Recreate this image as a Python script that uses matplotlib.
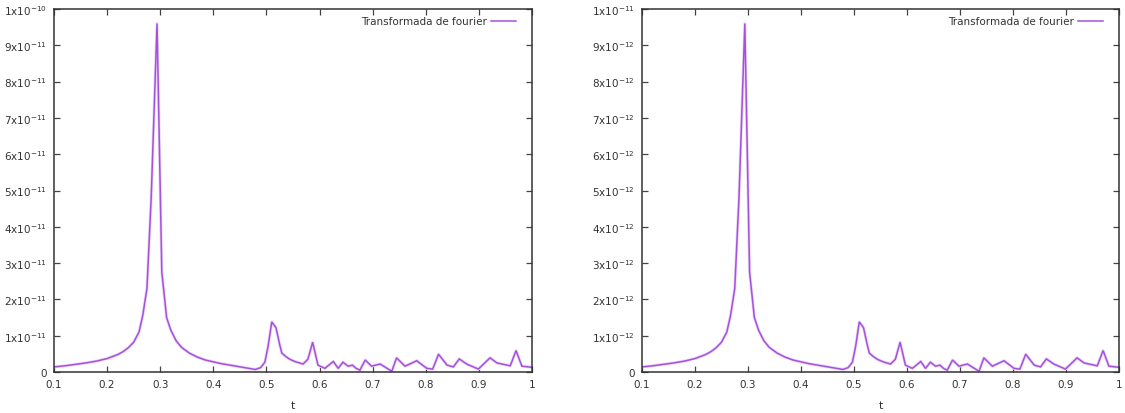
import matplotlib
matplotlib.use("Agg")
import matplotlib.pyplot as plt
from matplotlib.lines import Line2D

# Fourier transform magnitude sampled over t (left panel, units of 1e-11)
t = [0.100, 0.120, 0.140, 0.160, 0.180, 0.200, 0.220, 0.230, 0.240, 0.250,
     0.260, 0.267, 0.275, 0.283, 0.294, 0.303, 0.312, 0.320, 0.330, 0.340,
     0.355, 0.370, 0.385, 0.400, 0.415, 0.431, 0.447, 0.463, 0.479, 0.489,
     0.497, 0.503, 0.510, 0.518, 0.525, 0.529, 0.537, 0.544, 0.555, 0.569,
     0.578, 0.587, 0.597, 0.610, 0.626, 0.635, 0.644, 0.654, 0.662, 0.669,
     0.676, 0.686, 0.698, 0.714, 0.736, 0.745, 0.761, 0.783, 0.802, 0.813,
     0.824, 0.840, 0.852, 0.863, 0.877, 0.899, 0.921, 0.934, 0.959, 0.970,
     0.981, 1.000]
amp = [0.14, 0.17, 0.21, 0.25, 0.30, 0.37, 0.48, 0.56, 0.67, 0.82,
       1.10, 1.55, 2.30, 4.80, 9.60, 2.75, 1.50, 1.15, 0.86, 0.68,
       0.52, 0.41, 0.33, 0.28, 0.23, 0.19, 0.15, 0.11, 0.07, 0.12,
       0.27, 0.70, 1.38, 1.22, 0.75, 0.52, 0.42, 0.35, 0.28, 0.22,
       0.35, 0.82, 0.19, 0.10, 0.29, 0.10, 0.27, 0.16, 0.19, 0.10,
       0.05, 0.33, 0.16, 0.22, 0.02, 0.39, 0.16, 0.31, 0.10, 0.08,
       0.49, 0.19, 0.14, 0.36, 0.22, 0.08, 0.39, 0.25, 0.17, 0.59,
       0.16, 0.13]

# Per-panel scale factors and y tick labels
scales = [1e-11, 1e-12]
x_ticks = [0.1, 0.2, 0.3, 0.4, 0.5, 0.6, 0.7, 0.8, 0.9, 1.0]
x_labels = ["0.1", "0.2", "0.3", "0.4", "0.5", "0.6", "0.7", "0.8", "0.9", "1"]
y_labels = [
    ["0"] + [f"{k}x10$^{{-11}}$" for k in range(1, 10)] + ["1x10$^{-10}$"],
    ["0"] + [f"{k}x10$^{{-12}}$" for k in range(1, 10)] + ["1x10$^{-11}$"],
]
legend_label = "Transformada de fourier"
line_color = "#a452dc"

W, H = 1125, 414
fig = plt.figure(figsize=(W / 100, H / 100), dpi=100)
boxes = [(54, 532), (642, 1119)]
top_px, bot_px = 10, 373

for (x0, x1), s, ylab in zip(boxes, scales, y_labels):
    ax = fig.add_axes([x0 / W, (H - bot_px) / H, (x1 - x0) / W, (bot_px - top_px) / H])
    yvals = [a * s for a in amp]
    # soft halo under the curve, then the curve itself
    ax.plot(t, yvals, color="#ecd6f6", lw=2.2, solid_joinstyle="round")
    ax.plot(t, yvals, color=line_color, lw=1.1, solid_joinstyle="miter")
    ax.set_xlim(0.1, 1.0)
    ax.set_ylim(0, 10 * s)
    ax.set_xticks(x_ticks)
    ax.set_xticklabels(x_labels)
    ax.set_yticks([k * s for k in range(11)])
    ax.set_yticklabels(ylab)
    ax.tick_params(direction="in", length=4, width=0.9, top=True, right=True,
                   labelsize=7.5, labelcolor="#333333", color="#444444", pad=5)
    for sp in ax.spines.values():
        sp.set_linewidth(1.1)
        sp.set_color("#333333")
    ax.set_xlabel("t", fontsize=8, color="#333333", labelpad=8)
    handle = Line2D([], [], color=line_color, lw=1.1)
    width_px = x1 - x0
    leg = ax.legend([handle], [legend_label], loc="upper right", frameon=False,
                    markerfirst=False, fontsize=7.5, handlelength=2.4,
                    borderaxespad=0.2, handletextpad=0.4,
                    bbox_to_anchor=(1 - 10 / width_px, 1 - 1 / 363))
    for txt in leg.get_texts():
        txt.set_color("#333333")

fig.savefig("out.png", dpi=100)
